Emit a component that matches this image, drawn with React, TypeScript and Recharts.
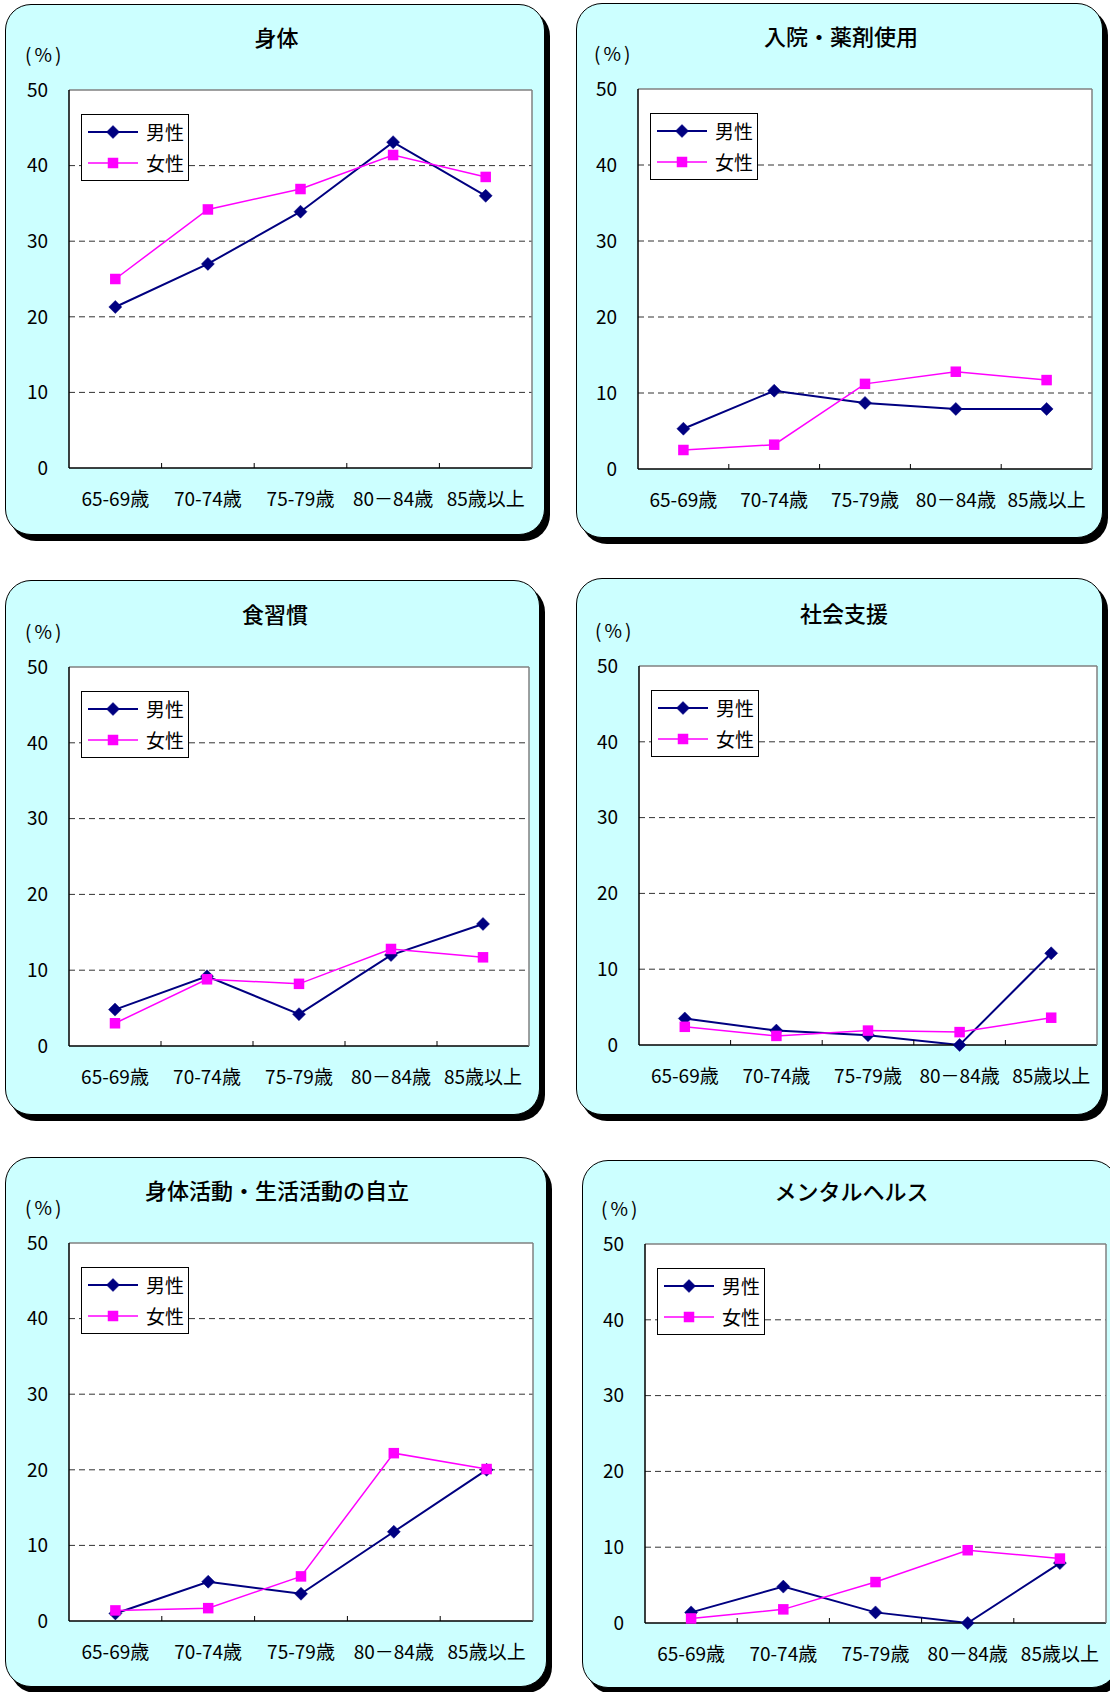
import React from 'react';
import { LineChart, Line, XAxis, YAxis, CartesianGrid, ReferenceLine, Legend } from 'recharts';

const FONT = '"Noto Sans CJK JP", "Noto Sans CJK SC", sans-serif';
const NAVY = '#000080';
const MAGENTA = '#FF00FF';
const PANEL_BG = '#CCFFFF';

// categories and ticks
const AGE_GROUPS = ['65-69歳', '70-74歳', '75-79歳', '80－84歳', '85歳以上'];
const Y_TICKS = [0, 10, 20, 30, 40, 50];
const GRID_VALUES = [10, 20, 30, 40];

// values (%)
const BODY_MALE = [21.3, 27.0, 33.9, 43.1, 36.0];
const BODY_FEMALE = [25.0, 34.2, 36.9, 41.4, 38.5];
const HOSPITAL_MALE = [5.3, 10.3, 8.7, 7.9, 7.9];
const HOSPITAL_FEMALE = [2.5, 3.2, 11.2, 12.8, 11.7];
const DIET_MALE = [4.8, 9.2, 4.2, 12.0, 16.1];
const DIET_FEMALE = [3.0, 8.8, 8.2, 12.8, 11.7];
const SOCIAL_MALE = [3.5, 1.9, 1.3, 0, 12.1];
const SOCIAL_FEMALE = [2.4, 1.2, 1.9, 1.7, 3.6];
const ACTIVITY_MALE = [1.0, 5.2, 3.6, 11.8, 20.0];
const ACTIVITY_FEMALE = [1.4, 1.7, 5.9, 22.2, 20.1];
const MENTAL_MALE = [1.4, 4.8, 1.4, 0, 7.9];
const MENTAL_FEMALE = [0.6, 1.8, 5.4, 9.6, 8.5];

const PANEL_TITLES = ['身体', '入院・薬剤使用', '食習慣', '社会支援', '身体活動・生活活動の自立', 'メンタルヘルス'];
const MALE_SERIES = [BODY_MALE, HOSPITAL_MALE, DIET_MALE, SOCIAL_MALE, ACTIVITY_MALE, MENTAL_MALE];
const FEMALE_SERIES = [BODY_FEMALE, HOSPITAL_FEMALE, DIET_FEMALE, SOCIAL_FEMALE, ACTIVITY_FEMALE, MENTAL_FEMALE];

const SERIES = [
  { key: 'male', name: '男性', color: NAVY },
  { key: 'female', name: '女性', color: MAGENTA },
];

// page layout: rounded panel box and inner plot rectangle
const LAYOUTS = [
  { box: { x: 5, y: 4, w: 540, h: 531 }, plot: { x: 69, y: 90, w: 463, h: 378 } },
  { box: { x: 576, y: 3, w: 527, h: 535 }, plot: { x: 638, y: 89, w: 454, h: 380 } },
  { box: { x: 5, y: 580, w: 535, h: 535 }, plot: { x: 69, y: 667, w: 460, h: 379 } },
  { box: { x: 576, y: 578, w: 527, h: 537 }, plot: { x: 639, y: 666, w: 458, h: 379 } },
  { box: { x: 5, y: 1157, w: 542, h: 530 }, plot: { x: 69, y: 1243, w: 464, h: 378 } },
  { box: { x: 582, y: 1160, w: 536, h: 528 }, plot: { x: 645, y: 1244, w: 461, h: 379 } },
];

const ML = 70;
const MT = 20;
const MR = 10;
const MB = 50;
const FRAME_W = 1;
const TICK_MARGIN = 25;

function Diamond(props: any) {
  const { cx, cy } = props;
  if (cx == null || cy == null) return <g />;
  const r = 6.5;
  return (
    <path
      d={`M${cx},${cy - r}L${cx + r},${cy}L${cx},${cy + r}L${cx - r},${cy}Z`}
      fill={NAVY}
      stroke={NAVY}
      strokeWidth={0.5}
    />
  );
}

function Square(props: any) {
  const { cx, cy } = props;
  if (cx == null || cy == null) return <g />;
  const s = 10.5;
  return <rect x={cx - s / 2} y={cy - s / 2} width={s} height={s} fill={MAGENTA} />;
}

// category label plus the small inward tick at the band's right edge
function AgeTick(props: any) {
  const { x, y, payload, index, visibleTicksCount } = props;
  const axisY = y - TICK_MARGIN;
  const half = payload?.offset ?? 0;
  const last = index >= (visibleTicksCount ?? AGE_GROUPS.length) - 1;
  return (
    <g>
      <text x={x} y={y} dy="0.71em" textAnchor="middle" fill="#000" fontSize={19} fontFamily={FONT}>
        {payload.value}
      </text>
      {!last && half > 0 && (
        <line x1={x + half} x2={x + half} y1={axisY} y2={axisY - 5} stroke="#000" strokeWidth={1} />
      )}
    </g>
  );
}

function LegendBox() {
  return (
    <div
      style={{
        background: '#fff',
        border: '1px solid #000',
        padding: '1px 4px 2px 6px',
        fontFamily: FONT,
        fontSize: 19,
        color: '#000',
      }}
    >
      {SERIES.map((s) => (
        <div key={s.key} style={{ display: 'flex', alignItems: 'center', height: 31 }}>
          <svg width={52} height={16}>
            <line x1={0} y1={8} x2={50} y2={8} stroke={s.color} strokeWidth={s.key === 'male' ? 2 : 1.5} />
            {s.key === 'male' ? <Diamond cx={25} cy={8} /> : <Square cx={25} cy={8} />}
          </svg>
          <span style={{ marginLeft: 6, lineHeight: 1 }}>{s.name}</span>
        </div>
      ))}
    </div>
  );
}

function Panel({ index }: { index: number }) {
  const { box, plot } = LAYOUTS[index];
  const male = MALE_SERIES[index];
  const female = FEMALE_SERIES[index];
  const data = AGE_GROUPS.map((age, i) => ({ age, male: male[i], female: female[i] }));
  const titleX = plot.x + plot.w / 2 - 24;
  const titleY = plot.y - 54;

  return (
    <>
      <div
        style={{
          position: 'absolute',
          left: box.x,
          top: box.y,
          width: box.w,
          height: box.h,
          background: PANEL_BG,
          border: '1.5px solid #000',
          borderRadius: 26,
          boxShadow: '5px 6px 0 #000',
          boxSizing: 'border-box',
        }}
      />
      <div
        style={{
          position: 'absolute',
          left: titleX - 200,
          width: 400,
          top: titleY - 15,
          height: 30,
          lineHeight: '30px',
          textAlign: 'center',
          fontFamily: FONT,
          fontSize: 22,
          fontWeight: 500,
          color: '#000',
        }}
      >
        {PANEL_TITLES[index]}
      </div>
      <div
        style={{
          position: 'absolute',
          left: plot.x - 44,
          top: plot.y - 36 - 12,
          height: 24,
          lineHeight: '24px',
          fontFamily: FONT,
          fontSize: 19,
          letterSpacing: 3,
          color: '#000',
          whiteSpace: 'nowrap',
        }}
      >
        (%)
      </div>
      <div style={{ position: 'absolute', left: plot.x - ML, top: plot.y - MT }}>
        <LineChart
          width={plot.w + ML + MR}
          height={plot.h + MT + MB}
          data={data}
          margin={{ top: MT, right: MR - FRAME_W, left: 0, bottom: 0 }}
        >
          <CartesianGrid
            xAxisId="cat"
            yAxisId="v"
            vertical={false}
            horizontalValues={GRID_VALUES}
            stroke="#333"
            strokeDasharray="6 4"
            fill="#fff"
          />
          <XAxis
            xAxisId="cat"
            dataKey="age"
            scale="band"
            height={MB}
            interval={0}
            axisLine={{ stroke: '#000', strokeWidth: 1.5 }}
            tickLine={false}
            tickSize={0}
            tickMargin={TICK_MARGIN}
            tick={<AgeTick />}
          />
          <YAxis
            yAxisId="v"
            domain={[0, 50]}
            ticks={Y_TICKS}
            width={ML}
            axisLine={{ stroke: '#000', strokeWidth: 1.5 }}
            tickLine={false}
            tickSize={0}
            tickMargin={21}
            tick={{ fill: '#000', fontSize: 19, fontFamily: FONT }}
          />
          <YAxis
            yAxisId="frame"
            orientation="right"
            domain={[0, 50]}
            ticks={Y_TICKS}
            width={FRAME_W}
            axisLine={{ stroke: '#808080', strokeWidth: 1.5 }}
            tickLine={false}
            tick={false}
          />
          <ReferenceLine xAxisId="cat" yAxisId="v" y={50} stroke="#808080" strokeWidth={1.5} />
          <Legend
            layout="vertical"
            align="center"
            verticalAlign="middle"
            content={<LegendBox />}
            wrapperStyle={{ left: ML + 12, top: MT + 24, width: 'auto', height: 'auto' }}
          />
          <Line
            xAxisId="cat"
            yAxisId="v"
            type="linear"
            dataKey="male"
            name="男性"
            stroke={NAVY}
            strokeWidth={2}
            dot={<Diamond />}
            activeDot={false}
            isAnimationActive={false}
          />
          <Line
            xAxisId="cat"
            yAxisId="v"
            type="linear"
            dataKey="female"
            name="女性"
            stroke={MAGENTA}
            strokeWidth={1.5}
            dot={<Square />}
            activeDot={false}
            isAnimationActive={false}
          />
        </LineChart>
      </div>
    </>
  );
}

export default function App() {
  return (
    <div
      style={{
        position: 'absolute',
        left: 0,
        top: 0,
        width: 1110,
        height: 1692,
        overflow: 'hidden',
        background: '#fff',
      }}
    >
      {PANEL_TITLES.map((_, i) => (
        <Panel key={i} index={i} />
      ))}
    </div>
  );
}
